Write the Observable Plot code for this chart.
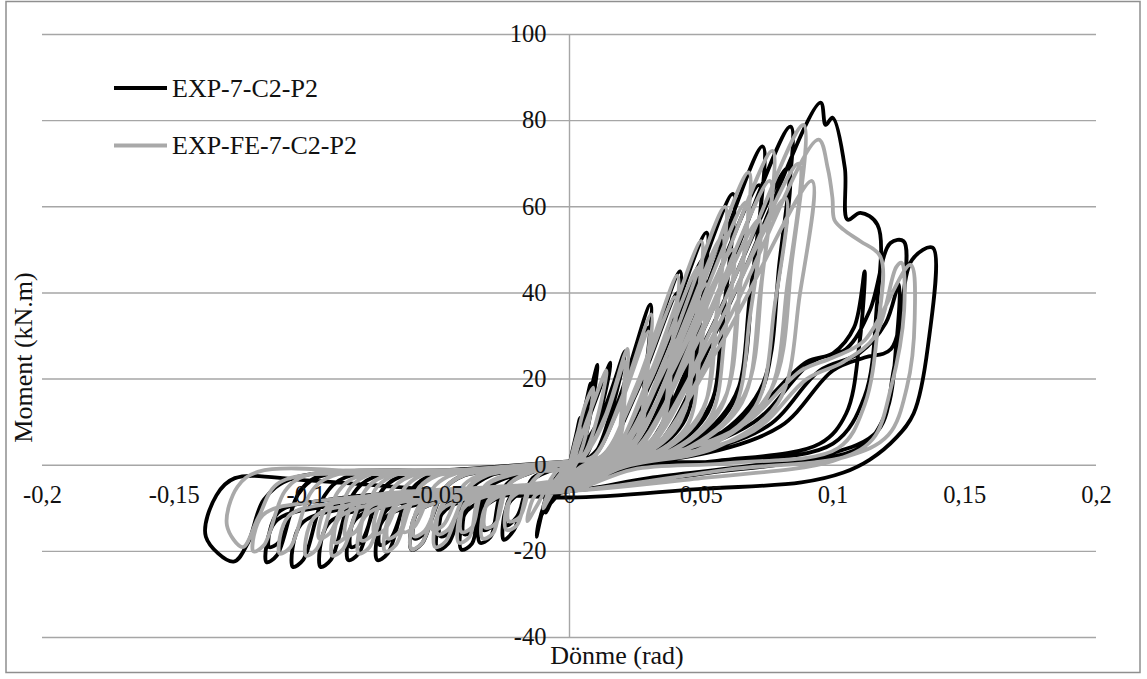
<!DOCTYPE html>
<html>
<head>
<meta charset="utf-8">
<script src="https://cdn.jsdelivr.net/npm/d3@7"></script>
<script src="https://cdn.jsdelivr.net/npm/@observablehq/plot@0.6"></script>
<style>
  body { margin: 0; background: #fff; }
  #chart { width: 1147px; height: 679px; }
</style>
</head>
<body>
<div id="chart"></div>
<script>
// Series names and line colours
const seriesNames = ["EXP-7-C2-P2", "EXP-FE-7-C2-P2"];
const seriesColors = ["#000000", "#a9a9a9"];

// Axis ticks (decimal comma labels)
const xTickValues = [-0.2, -0.15, -0.1, -0.05, 0, 0.05, 0.1, 0.15, 0.2];
const xTickLabels = ["-0,2", "-0,15", "-0,1", "-0,05", "0", "0,05", "0,1", "0,15", "0,2"];
const yTickValues = [-40, -20, 0, 20, 40, 60, 80, 100];
const yTickLabels = ["-40", "-20", "0", "20", "40", "60", "80", "100"];

// EXP-7-C2-P2: moment–rotation history, one array per loading cycle, [rotation (rad), moment (kN.m)]
const exp7Cycles = [
  [[0,0],[0.001,3],[0.0025,7],[0.004,11],[0.003,5],[0.001,0],[0,-1],[-0.002,-3],[-0.005,-7],[-0.003,-3],[0,0]],
  [[0.0005,0.5],[0.002,4],[0.005,11],[0.008,19],[0.006,10],[0.003,2],[0,-2],[-0.004,-5],[-0.009,-11],[-0.006,-5],[-0.002,-1],[0.001,0.5]],
  [[0.003,5],[0.006,12],[0.0106,23.3],[0.008,12],[0.004,2],[0,-3],[-0.005,-6],[-0.010,-10],[-0.012,-15],[-0.008,-6],[-0.003,-1.5],[0.001,0.5]],
  [[0.003,4],[0.008,12],[0.0156,23.8],[0.012,13],[0.007,3],[0.002,-1],[0,-4],[-0.006,-8],[-0.011,-12],[-0.0125,-16.6],[-0.009,-8],[-0.004,-2],[0.002,0.5]],
  [[0.004,3],[0.0125,12],[0.021,26.5],[0.017,15],[0.011,4],[0.004,0],[0,-3],[-0.008,-5],[-0.020,-7],[-0.024,-10],[-0.025,-17.3],[-0.021,-15],[-0.015,-4],[-0.006,-1],[0.002,0.5]],
  [[0.004,2],[0.012,10],[0.020,23],[0.016,13],[0.010,3],[0.004,0],[0,-2.5],[-0.008,-4.5],[-0.019,-6],[-0.023,-8],[-0.024,-14],[-0.020,-12],[-0.014,-3],[-0.006,-1],[0.002,0.5]],
  [[0.0092,2],[0.019,15.7],[0.0307,37.3],[0.0292,22.4],[0.0264,8.2],[0.0184,2.2],[0.0077,0],[0,-2.6],[-0.0102,-5.4],[-0.0272,-7.6],[-0.033,-10.4],[-0.034,-18],[-0.030,-16.7],[-0.025,-5.4],[-0.012,-1.1],[0.003,1]],
  [[0.009,2],[0.0186,13.4],[0.030,32],[0.0285,19.2],[0.0258,7],[0.018,1.9],[0.0075,0],[0,-2.2],[-0.0099,-4.5],[-0.0264,-6.3],[-0.032,-8.7],[-0.033,-15],[-0.029,-14],[-0.024,-4.5],[-0.0116,-0.9],[0.003,1]],
  [[0.0126,2],[0.026,18.9],[0.042,45],[0.0399,27],[0.0361,9.9],[0.0252,2.7],[0.0105,0],[0,-3.2],[-0.0123,-5.9],[-0.0328,-8.2],[-0.0398,-11.4],[-0.041,-19.6],[-0.037,-18.2],[-0.032,-5.9],[-0.0144,-1.2],[0.003,1]],
  [[0.0123,2],[0.0254,16.8],[0.041,40],[0.039,24],[0.0353,8.8],[0.0246,2.4],[0.0103,0],[0,-2.8],[-0.012,-4.8],[-0.032,-6.7],[-0.0388,-9.3],[-0.040,-16],[-0.036,-14.9],[-0.031,-4.8],[-0.014,-1],[0.003,1]],
  [[0.0156,2],[0.0322,22.7],[0.052,54],[0.0494,32.4],[0.0447,11.9],[0.0312,3.2],[0.013,0],[0,-3.8],[-0.015,-5.9],[-0.040,-8.2],[-0.0485,-11.4],[-0.050,-19.6],[-0.046,-18.2],[-0.038,-5.9],[-0.030,-2.4],[-0.020,-1.2],[0.003,1]],
  [[0.0153,2],[0.0316,20.2],[0.051,48],[0.0485,28.8],[0.0439,10.6],[0.0306,2.9],[0.0128,0],[0,-3.4],[-0.0147,-5],[-0.0392,-6.9],[-0.0475,-9.6],[-0.049,-16.5],[-0.045,-15.3],[-0.037,-5],[-0.029,-2],[-0.0196,-1],[0.003,1]],
  [[0.0186,2],[0.0384,26.5],[0.062,63],[0.0589,37.8],[0.0533,13.9],[0.0372,3.8],[0.0155,0],[0,-4.4],[-0.018,-5.9],[-0.048,-8.2],[-0.0582,-11.4],[-0.060,-19.6],[-0.056,-18.2],[-0.048,-5.9],[-0.040,-2.4],[-0.024,-1.2],[0.003,1]],
  [[0.0183,2],[0.0378,23.5],[0.061,56],[0.058,33.6],[0.0525,12.3],[0.0366,3.4],[0.0153,0],[0,-3.9],[-0.0177,-5.1],[-0.0472,-7.1],[-0.0572,-9.9],[-0.059,-17],[-0.055,-15.8],[-0.047,-5.1],[-0.039,-2],[-0.0236,-1],[0.003,1]],
  [[0.022,2],[0.0454,31.1],[0.0733,74],[0.0696,44.4],[0.063,16.3],[0.044,4.4],[0.0183,0],[0,-5],[-0.0219,-6.6],[-0.0584,-9.2],[-0.0708,-12.8],[-0.073,-22],[-0.069,-20.5],[-0.061,-6.6],[-0.053,-2.6],[-0.0292,-1.3],[0.003,1]],
  [[0.0216,2],[0.0446,27.3],[0.072,65],[0.0684,39],[0.0619,14.3],[0.0432,3.9],[0.018,0],[0,-4.5],[-0.0216,-5.6],[-0.0576,-7.8],[-0.0698,-10.7],[-0.072,-18.5],[-0.068,-17.2],[-0.060,-5.6],[-0.052,-2.2],[-0.0288,-1.1],[0.003,1]],
  [[0.0252,2],[0.052,33],[0.0839,78.6],[0.0797,47.2],[0.0722,17.3],[0.0503,4.7],[0.021,0],[0,-5.5],[-0.0252,-6.6],[-0.0672,-9.2],[-0.0815,-12.8],[-0.084,-22],[-0.080,-20.5],[-0.072,-6.6],[-0.064,-2.6],[-0.0336,-1.3],[0.003,1]],
  [[0.0249,2],[0.0515,29],[0.083,69],[0.0789,41.4],[0.0714,15.2],[0.0498,4.1],[0.0208,0],[0,-5],[-0.0249,-5.7],[-0.0664,-8],[-0.0805,-11],[-0.083,-19],[-0.079,-17.7],[-0.071,-5.7],[-0.063,-2.3],[-0.0332,-1.1],[0.003,1]],
  [[0.0286,2],[0.0591,35.4],[0.0953,84.2],[0.0972,79],[0.0998,80.7],[0.1045,69],[0.1055,57],[0.1104,58.6],[0.1169,55.8],[0.1165,36],[0.112,16],[0.100,5],[0.060,1],[0.024,0],[0,-6],[-0.0284,-7.1],[-0.0756,-9.9],[-0.0917,-13.7],[-0.0945,-23.6],[-0.0905,-21.9],[-0.0825,-7.1],[-0.0745,-2.8],[-0.0378,-1.4],[0.003,1]],
  [[0.030,2],[0.065,10],[0.090,24],[0.100,26],[0.108,32],[0.112,45],[0.110,28],[0.105,12],[0.095,5],[0.056,1],[0.022,-1],[0,-6],[-0.0315,-7.1],[-0.084,-9.9],[-0.1019,-13.7],[-0.105,-23.6],[-0.101,-21.9],[-0.093,-7.1],[-0.085,-2.8],[-0.042,-1.4],[0.003,1]],
  [[0.035,2],[0.070,10],[0.092,24],[0.105,27],[0.114,36],[0.1218,51.6],[0.1268,52],[0.127,40],[0.123,22],[0.117,8],[0.095,2],[0.050,-2],[0,-6],[-0.0345,-6.8],[-0.092,-9.5],[-0.1116,-13.1],[-0.115,-22.5],[-0.111,-20.9],[-0.103,-6.8],[-0.095,-2.7],[-0.046,-1.4],[0.003,1]],
  [[0.040,2],[0.075,9],[0.095,22],[0.110,26],[0.120,33],[0.125,42],[0.124,28],[0.120,12],[0.110,4],[0.070,0],[0.030,-3],[0,-6],[-0.0342,-5.7],[-0.0912,-8],[-0.1106,-11],[-0.114,-19],[-0.110,-17.7],[-0.102,-5.7],[-0.094,-2.3],[-0.0456,-1.1],[0.003,1]],
  [[0.045,2],[0.080,9],[0.100,22],[0.112,25],[0.122,27],[0.130,47.7],[0.1378,50.5],[0.136,27.5],[0.1306,12],[0.124,6.4],[0.114,1.3],[0.104,-1.7],[0.088,-4],[0.050,-5.5],[0,-7.5],[-0.045,-6],[-0.100,-3.5],[-0.127,-3],[-0.134,-7],[-0.138,-16.6],[-0.1275,-22.4],[-0.122,-18],[-0.116,-8],[-0.105,-3],[-0.050,-1.5],[0,-1]]
];

// EXP-FE-7-C2-P2: moment–rotation history, one array per loading cycle, [rotation (rad), moment (kN.m)]
const expFe7Cycles = [
  [[0,0],[0.002,5],[0.004,9],[0.003,4],[0.001,0],[-0.002,-3],[-0.005,-6],[-0.003,-3],[0,0]],
  [[0.0005,0.5],[0.003,7],[0.006,14],[0.009,18],[0.007,9],[0.003,1],[0,-2],[-0.005,-5],[-0.010,-10],[-0.007,-5],[-0.002,-1],[0.001,0.5]],
  [[0.003,4],[0.007,11],[0.014,22],[0.011,12],[0.006,3],[0.002,0],[0,-3],[-0.006,-5],[-0.013,-7],[-0.016,-13],[-0.012,-9],[-0.005,-1.5],[0.002,0.5]],
  [[0.0055,2],[0.0135,11.3],[0.022,27],[0.021,16.2],[0.019,5.9],[0.0132,1.6],[0.0055,0],[0,-2.5],[-0.0072,-4.5],[-0.0192,-6.3],[-0.0233,-8.7],[-0.024,-15],[-0.020,-14],[-0.015,-4.5],[-0.0084,-0.9],[0.003,1]],
  [[0.0053,2],[0.013,10],[0.021,24],[0.020,14.4],[0.018,5.3],[0.0126,1.4],[0.0053,0],[0,-2.2],[-0.0069,-3.9],[-0.0184,-5.5],[-0.0223,-7.5],[-0.023,-13],[-0.019,-12.1],[-0.014,-3.9],[-0.008,-0.8],[0.003,1]],
  [[0.0093,2],[0.0192,14.7],[0.031,35],[0.0295,21],[0.0267,7.7],[0.0186,2.1],[0.0078,0],[0,-2.5],[-0.0099,-5.1],[-0.0264,-7.1],[-0.032,-9.9],[-0.033,-17],[-0.029,-15.8],[-0.024,-5.1],[-0.0116,-1],[0.003,1]],
  [[0.009,2],[0.0186,13],[0.030,31],[0.0285,18.6],[0.0258,6.8],[0.018,1.9],[0.0075,0],[0,-2.2],[-0.0096,-4.4],[-0.0256,-6.1],[-0.031,-8.4],[-0.032,-14.5],[-0.028,-13.5],[-0.023,-4.4],[-0.0112,-0.9],[0.003,1]],
  [[0.0123,2],[0.0254,18.5],[0.041,44],[0.039,26.4],[0.0353,9.7],[0.0246,2.6],[0.0103,0],[0,-3.1],[-0.0126,-5.4],[-0.0336,-7.6],[-0.0407,-10.4],[-0.042,-18],[-0.038,-16.7],[-0.033,-5.4],[-0.0147,-1.1],[0.003,1]],
  [[0.012,2],[0.0248,16.4],[0.040,39],[0.038,23.4],[0.0344,8.6],[0.024,2.3],[0.010,0],[0,-2.7],[-0.0123,-4.7],[-0.0328,-6.5],[-0.0398,-9],[-0.041,-15.5],[-0.037,-14.4],[-0.032,-4.7],[-0.0144,-0.9],[0.003,1]],
  [[0.015,2],[0.031,21.8],[0.050,52],[0.0475,31.2],[0.043,11.4],[0.030,3.1],[0.0125,0],[0,-3.6],[-0.0153,-5.7],[-0.0408,-8],[-0.0495,-11],[-0.051,-19],[-0.047,-17.7],[-0.039,-5.7],[-0.031,-2.3],[-0.0204,-1.1],[0.003,1]],
  [[0.0147,2],[0.0304,19.3],[0.049,46],[0.0466,27.6],[0.0421,10.1],[0.0294,2.8],[0.0123,0],[0,-3.2],[-0.015,-4.8],[-0.040,-6.7],[-0.0485,-9.3],[-0.050,-16],[-0.046,-14.9],[-0.038,-4.8],[-0.030,-1.9],[-0.020,-1],[0.003,1]],
  [[0.0156,2],[0.0322,17.6],[0.052,42],[0.0494,25.2],[0.0447,9.2],[0.0312,2.5],[0.013,0],[0,-3],[-0.0156,-4.5],[-0.0416,-6.3],[-0.0504,-8.7],[-0.052,-15],[-0.048,-14],[-0.040,-4.5],[-0.032,-1.8],[-0.0208,-0.9],[0.003,1]],
  [[0.0177,2],[0.0366,25.2],[0.059,60],[0.056,36],[0.0507,13.2],[0.0354,3.6],[0.0148,0],[0,-4.2],[-0.018,-5.9],[-0.048,-8.2],[-0.0582,-11.3],[-0.060,-19.5],[-0.056,-18.1],[-0.048,-5.9],[-0.040,-2.3],[-0.024,-1.2],[0.003,1]],
  [[0.0174,2],[0.036,22.3],[0.058,53],[0.0551,31.8],[0.0499,11.7],[0.0348,3.2],[0.0145,0],[0,-3.7],[-0.0177,-5],[-0.0472,-6.9],[-0.0572,-9.6],[-0.059,-16.5],[-0.055,-15.3],[-0.047,-5],[-0.039,-2],[-0.0236,-1],[0.003,1]],
  [[0.0186,2],[0.0384,21],[0.062,50],[0.0589,30],[0.0533,11],[0.0372,3],[0.0155,0],[0,-3.5],[-0.0189,-4.7],[-0.0504,-6.5],[-0.0611,-9],[-0.063,-15.5],[-0.059,-14.4],[-0.051,-4.7],[-0.043,-1.9],[-0.0252,-0.9],[0.003,1]],
  [[0.0204,2],[0.0422,28.6],[0.068,68],[0.0646,40.8],[0.0585,15],[0.0408,4.1],[0.017,0],[0,-4.8],[-0.021,-6],[-0.056,-8.4],[-0.0679,-11.6],[-0.070,-20],[-0.066,-18.6],[-0.058,-6],[-0.050,-2.4],[-0.028,-1.2],[0.003,1]],
  [[0.0201,2],[0.0415,25.6],[0.067,61],[0.0637,36.6],[0.0576,13.4],[0.0402,3.7],[0.0168,0],[0,-4.3],[-0.0207,-5.1],[-0.0552,-7.1],[-0.0669,-9.9],[-0.069,-17],[-0.065,-15.8],[-0.057,-5.1],[-0.049,-2],[-0.0276,-1],[0.003,1]],
  [[0.0216,2],[0.0446,23.9],[0.072,57],[0.0684,34.2],[0.0619,12.5],[0.0432,3.4],[0.018,0],[0,-4],[-0.0222,-4.8],[-0.0592,-6.7],[-0.0718,-9.3],[-0.074,-16],[-0.070,-14.9],[-0.062,-4.8],[-0.054,-1.9],[-0.0296,-1],[0.003,1]],
  [[0.0231,2],[0.0477,30.7],[0.077,73],[0.0732,43.8],[0.0662,16.1],[0.0462,4.4],[0.0193,0],[0,-5.1],[-0.024,-6.2],[-0.064,-8.6],[-0.0776,-11.9],[-0.080,-20.5],[-0.076,-19.1],[-0.068,-6.2],[-0.060,-2.5],[-0.032,-1.2],[0.003,1]],
  [[0.0228,2],[0.0471,27.7],[0.076,66],[0.0722,39.6],[0.0654,14.5],[0.0456,4],[0.019,0],[0,-4.6],[-0.0237,-5.3],[-0.0632,-7.4],[-0.0766,-10.2],[-0.079,-17.5],[-0.075,-16.3],[-0.067,-5.3],[-0.059,-2.1],[-0.0316,-1.1],[0.003,1]],
  [[0.0246,2],[0.0508,26],[0.082,62],[0.0779,37.2],[0.0705,13.6],[0.0492,3.7],[0.0205,0],[0,-4.3],[-0.0255,-5],[-0.068,-6.9],[-0.0825,-9.6],[-0.085,-16.5],[-0.081,-15.3],[-0.073,-5],[-0.065,-2],[-0.034,-1],[0.003,1]],
  [[0.0266,2],[0.0551,33.2],[0.0888,79],[0.0844,47.4],[0.0764,17.4],[0.0533,4.7],[0.0222,0],[0,-5.5],[-0.027,-6.3],[-0.072,-8.8],[-0.0873,-12.2],[-0.090,-21],[-0.086,-19.5],[-0.078,-6.3],[-0.070,-2.5],[-0.036,-1.3],[0.003,1]],
  [[0.0261,2],[0.0539,29.4],[0.087,70],[0.0827,42],[0.0748,15.4],[0.0522,4.2],[0.0218,0],[0,-4.9],[-0.0267,-5.4],[-0.0712,-7.6],[-0.0863,-10.4],[-0.089,-18],[-0.085,-16.7],[-0.077,-5.4],[-0.069,-2.2],[-0.0356,-1.1],[0.003,1]],
  [[0.0276,2],[0.057,27.7],[0.092,66],[0.0874,39.6],[0.0791,14.5],[0.0552,4],[0.023,0],[0,-4.6],[-0.0285,-5.1],[-0.076,-7.1],[-0.0922,-9.9],[-0.095,-17],[-0.091,-15.8],[-0.083,-5.1],[-0.075,-2],[-0.038,-1],[0.003,1]],
  [[0.0284,2],[0.0586,31.8],[0.0945,75.6],[0.098,69],[0.0998,62],[0.1005,57],[0.104,54.7],[0.1104,52],[0.118,48.4],[0.117,32],[0.112,14],[0.102,4],[0.060,0.5],[0.024,-1],[0,-6],[-0.030,-6.3],[-0.080,-8.8],[-0.097,-12.2],[-0.100,-21],[-0.096,-19.5],[-0.088,-6.3],[-0.080,-2.5],[-0.040,-1.3],[0.003,1]],
  [[0.032,2],[0.065,9],[0.088,22],[0.100,25],[0.112,29],[0.1294,46.5],[0.131,34],[0.128,18],[0.121,7],[0.105,2],[0.060,-1],[0,-6],[-0.033,-6.2],[-0.088,-8.6],[-0.1067,-11.9],[-0.110,-20.5],[-0.106,-19.1],[-0.098,-6.2],[-0.090,-2.5],[-0.044,-1.2],[0.003,1]],
  [[0.036,2],[0.070,8],[0.090,20],[0.104,24],[0.116,30],[0.124,46],[0.126,47],[0.127,36],[0.122,18],[0.115,6],[0.100,1],[0.050,-3],[0,-6],[-0.036,-6],[-0.096,-8.4],[-0.1164,-11.6],[-0.120,-20],[-0.116,-18.6],[-0.108,-6],[-0.100,-2.4],[-0.048,-1.2],[0,-1]],
  [[-0.004,-1.2],[-0.060,-2],[-0.118,-1.5],[-0.126,-5],[-0.130,-14],[-0.124,-19],[-0.118,-12],[-0.110,-4],[-0.060,-2],[0,-1]]
];

const toRows = cycles => cycles.flat().map(([rotation, moment]) => ({rotation, moment}));
const exp7Rows = toRows(exp7Cycles);
const expFe7Rows = toRows(expFe7Cycles);

const serif = "'Liberation Serif', 'Times New Roman', serif";
const gridColor = "#a6a6a6";

const chart = Plot.plot({
  width: 1147,
  height: 679,
  marginLeft: 42,
  marginRight: 51,
  marginTop: 34,
  marginBottom: 42,
  x: {domain: [-0.2, 0.2], axis: null},
  y: {domain: [-40, 100], axis: null},
  style: {fontFamily: serif, background: "#fff", overflow: "visible"},
  marks: [
    Plot.ruleY(yTickValues, {stroke: gridColor, strokeWidth: 1.4}),
    Plot.ruleX([0], {stroke: gridColor, strokeWidth: 1.4}),
    Plot.line(exp7Rows, {x: "rotation", y: "moment", stroke: seriesColors[0], strokeWidth: 3.8, curve: "catmull-rom", strokeLinejoin: "round"}),
    Plot.line(expFe7Rows, {x: "rotation", y: "moment", stroke: seriesColors[1], strokeWidth: 3.8, curve: "catmull-rom", strokeLinejoin: "round"}),
    Plot.text(yTickValues, {x: 0, y: d => d, text: (d, i) => yTickLabels[i], textAnchor: "end", dx: -23, fontSize: 24.5, fill: "#111"}),
    Plot.text(xTickValues, {x: d => d, y: 0, text: (d, i) => xTickLabels[i], dy: 30, fontSize: 24.5, fill: "#111"})
  ]
});

const svg = d3.select(chart);

// Chart-area border
svg.append("rect")
  .attr("x", 6).attr("y", 1.5).attr("width", 1134).attr("height", 671)
  .attr("fill", "none").attr("stroke", "#8f8f8f").attr("stroke-width", 1.5);

// Axis titles
svg.append("text")
  .attr("transform", "translate(32,357.5) rotate(-90)")
  .attr("text-anchor", "middle")
  .attr("font-family", serif).attr("font-size", 26).attr("fill", "#111")
  .text("Moment (kN.m)");
svg.append("text")
  .attr("x", 617).attr("y", 664)
  .attr("text-anchor", "middle")
  .attr("font-family", serif).attr("font-size", 26).attr("fill", "#111")
  .text("Dönme (rad)");

// Legend
const legend = svg.append("g").selectAll("g")
  .data(seriesNames)
  .join("g")
  .attr("transform", (d, i) => `translate(114,${88 + i * 57.5})`);
legend.append("line")
  .attr("x1", 0).attr("x2", 53).attr("y1", 0).attr("y2", 0)
  .attr("stroke", (d, i) => seriesColors[i]).attr("stroke-width", 4);
legend.append("text")
  .attr("x", 58).attr("y", 8.7)
  .attr("text-anchor", "start")
  .attr("font-family", serif).attr("font-size", 26).attr("fill", "#111")
  .text(d => d);

document.getElementById("chart").append(chart);
</script>
</body>
</html>
